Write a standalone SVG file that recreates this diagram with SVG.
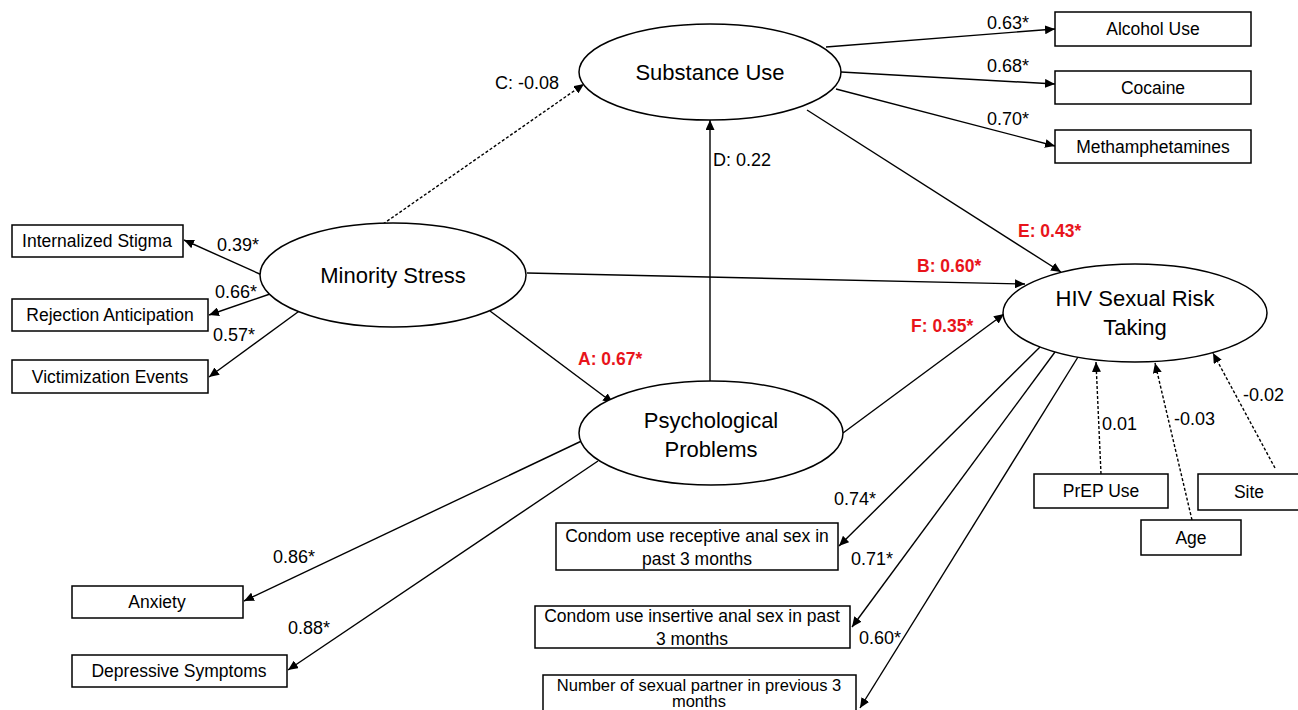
<svg xmlns="http://www.w3.org/2000/svg" width="1298" height="710" viewBox="0 0 1298 710">
<style>
text{font-family:"Liberation Sans",Arial,sans-serif;fill:#000}
.box{fill:#fff;stroke:#000;stroke-width:1.5}
.ell{fill:#fff;stroke:#000;stroke-width:1.5}
.bt{font-size:17.5px;text-anchor:middle}
.et{font-size:22px;text-anchor:middle}
.lb{font-size:18px}
.red{fill:#e8141b;font-weight:bold;font-size:17.5px}
.c{stroke:#000;stroke-width:1.4;fill:none;marker-end:url(#ah)}
.d{stroke-dasharray:3,2}
</style>
<defs>
<marker id="ah" markerUnits="userSpaceOnUse" markerWidth="11" markerHeight="9" refX="10" refY="4.5" orient="auto">
<path d="M0,0 L10,4.5 L0,9 Z" fill="#000"/>
</marker>
</defs>
<rect width="1298" height="710" fill="#fff"/>
<g id="connectors">
<line class="c" x1="826" y1="47" x2="1055" y2="29"/>
<line class="c" x1="841" y1="72" x2="1055" y2="84"/>
<line class="c" x1="836" y1="89" x2="1055" y2="146"/>
<line class="c" x1="807" y1="110" x2="1061" y2="272"/>
<line class="c d" x1="383" y1="224" x2="584" y2="84"/>
<line class="c" x1="710" y1="381" x2="710" y2="120"/>
<line class="c" x1="527" y1="273" x2="1025" y2="284"/>
<line class="c" x1="490" y1="311" x2="613" y2="403"/>
<line class="c" x1="843" y1="433" x2="1004" y2="314"/>
<line class="c" x1="262" y1="275" x2="184" y2="240"/>
<line class="c" x1="270" y1="294" x2="209" y2="315"/>
<line class="c" x1="302" y1="309" x2="209" y2="377"/>
<line class="c" x1="590" y1="437" x2="244" y2="601"/>
<line class="c" x1="598" y1="461" x2="288" y2="670"/>
<line class="c" x1="1040" y1="347" x2="839" y2="546"/>
<line class="c" x1="1055" y1="352" x2="852" y2="627"/>
<line class="c" x1="1078" y1="357" x2="860" y2="708"/>
<line class="c d" x1="1101" y1="474" x2="1096" y2="362"/>
<line class="c d" x1="1192" y1="520" x2="1155" y2="363"/>
<line class="c d" x1="1275" y1="468" x2="1213" y2="353"/>
<text class="lb" x="987" y="29">0.63*</text>
<text class="lb" x="987" y="72">0.68*</text>
<text class="lb" x="987" y="125">0.70*</text>
<text class="red" x="1018" y="237">E: 0.43*</text>
<text class="lb" x="495" y="89">C: -0.08</text>
<text class="lb" x="713" y="166">D: 0.22</text>
<text class="red" x="917" y="272">B: 0.60*</text>
<text class="red" x="578" y="365">A: 0.67*</text>
<text class="red" x="911" y="332">F: 0.35*</text>
<text class="lb" x="217" y="251">0.39*</text>
<text class="lb" x="215" y="298">0.66*</text>
<text class="lb" x="213" y="341">0.57*</text>
<text class="lb" x="273" y="563">0.86*</text>
<text class="lb" x="288" y="634">0.88*</text>
<text class="lb" x="834" y="505">0.74*</text>
<text class="lb" x="851" y="565">0.71*</text>
<text class="lb" x="859" y="644">0.60*</text>
<text class="lb" x="1102" y="430">0.01</text>
<text class="lb" x="1174" y="425">-0.03</text>
<text class="lb" x="1243" y="401">-0.02</text>
</g>
<g id="substance-use"><ellipse class="ell" cx="710" cy="72" rx="131" ry="48"/><text class="et" x="710" y="80">Substance Use</text></g>
<g id="minority-stress"><ellipse class="ell" cx="393" cy="275" rx="133" ry="52"/><text class="et" x="393" y="283">Minority Stress</text></g>
<g id="psychological-problems"><ellipse class="ell" cx="711" cy="433" rx="132" ry="52"/><text class="et" x="711" y="428">Psychological</text><text class="et" x="711" y="457">Problems</text></g>
<g id="hiv"><ellipse class="ell" cx="1135" cy="313" rx="132" ry="49"/><text class="et" x="1135" y="306">HIV Sexual Risk</text><text class="et" x="1135" y="335">Taking</text></g>
<g id="alcohol"><rect class="box" x="1055" y="12" width="196" height="34"/><text class="bt" x="1153" y="35">Alcohol Use</text></g>
<g id="cocaine"><rect class="box" x="1055" y="71" width="196" height="33"/><text class="bt" x="1153" y="94">Cocaine</text></g>
<g id="meth"><rect class="box" x="1055" y="130" width="196" height="33"/><text class="bt" x="1153" y="153">Methamphetamines</text></g>
<g id="stigma"><rect class="box" x="12" y="225" width="171" height="32"/><text class="bt" x="97" y="247">Internalized Stigma</text></g>
<g id="rejection"><rect class="box" x="12" y="299" width="196" height="32"/><text class="bt" x="110" y="321">Rejection Anticipation</text></g>
<g id="victimization"><rect class="box" x="12" y="360" width="196" height="33"/><text class="bt" x="110" y="383">Victimization Events</text></g>
<g id="anxiety"><rect class="box" x="72" y="586" width="171" height="32"/><text class="bt" x="157" y="608">Anxiety</text></g>
<g id="depressive"><rect class="box" x="72" y="655" width="215" height="32"/><text class="bt" x="179" y="677">Depressive Symptoms</text></g>
<g id="condom-receptive"><rect class="box" x="556" y="523" width="282" height="47"/><text class="bt" x="697" y="542">Condom use receptive anal sex in</text><text class="bt" x="697" y="565">past 3 months</text></g>
<g id="condom-insertive"><rect class="box" x="535" y="606" width="315" height="42"/><text class="bt" x="692" y="622">Condom use insertive anal sex in past</text><text class="bt" x="692" y="645">3 months</text></g>
<g id="partners"><rect class="box" x="543" y="675" width="313" height="45"/><text class="bt" x="699" y="691" style="font-size:16.5px">Number of sexual  partner in previous 3</text><text class="bt" x="699" y="707" style="font-size:16.5px">months</text></g>
<g id="prep"><rect class="box" x="1034" y="474" width="134" height="34"/><text class="bt" x="1101" y="497">PrEP Use</text></g>
<g id="site"><rect class="box" x="1198" y="474" width="102" height="36"/><text class="bt" x="1249" y="498">Site</text></g>
<g id="age"><rect class="box" x="1141" y="520" width="100" height="35"/><text class="bt" x="1191" y="544">Age</text></g>
</svg>
